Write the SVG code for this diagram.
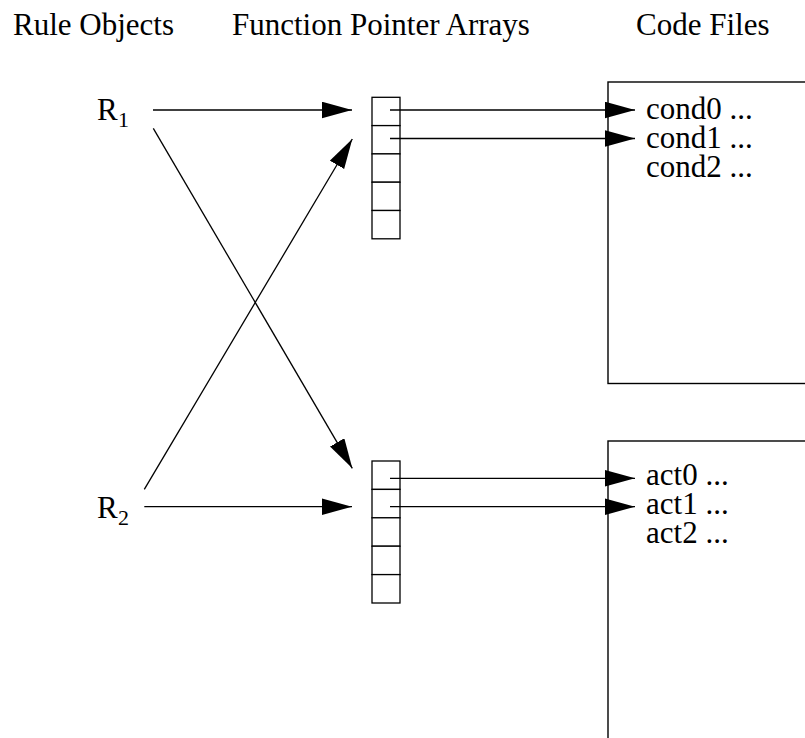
<svg xmlns="http://www.w3.org/2000/svg" width="805" height="738" viewBox="0 0 805 738">
  <style>
    text { font-family: "Liberation Serif", "Times New Roman", serif; fill: #000; }
    .hdr { font-size: 31px; }
    .code { font-size: 31px; }
    .rule { font-size: 31px; }
    .sub { font-size: 22px; }
    .box { fill: #fff; stroke: #000; stroke-width: 1.4; }
    .cell { fill: #fff; stroke: #000; stroke-width: 1.3; }
    .edge { fill: none; stroke: #000; stroke-width: 1.3; marker-end: url(#head); }
  </style>
  <defs>
    <marker id="head" markerUnits="userSpaceOnUse" markerWidth="30" markerHeight="17" refX="30" refY="8.3" orient="auto">
      <path d="M0,0 L30,8.3 L0,16.6 z" fill="#000"/>
    </marker>
  </defs>
  <rect width="805" height="738" fill="#fff"/>

  <!-- column headings -->
  <g id="headings">
    <text class="hdr" x="13" y="35">Rule Objects</text>
    <text class="hdr" x="232" y="35">Function Pointer Arrays</text>
    <text class="hdr" x="636" y="35">Code Files</text>
  </g>

  <!-- rule objects -->
  <g id="rule1">
    <text class="rule" x="97" y="120">R<tspan class="sub" x="118" y="127">1</tspan></text>
  </g>
  <g id="rule2">
    <text class="rule" x="97" y="518">R<tspan class="sub" x="118" y="525">2</tspan></text>
  </g>

  <!-- function pointer arrays (5 slots each) -->
  <g id="condArray">
    <rect class="cell" x="372" y="97.3" width="28" height="28.3"/>
    <rect class="cell" x="372" y="125.6" width="28" height="28.3"/>
    <rect class="cell" x="372" y="153.9" width="28" height="28.3"/>
    <rect class="cell" x="372" y="182.2" width="28" height="28.3"/>
    <rect class="cell" x="372" y="210.5" width="28" height="28.3"/>
  </g>
  <g id="actArray">
    <rect class="cell" x="372" y="461" width="28" height="28.4"/>
    <rect class="cell" x="372" y="489.4" width="28" height="28.4"/>
    <rect class="cell" x="372" y="517.8" width="28" height="28.4"/>
    <rect class="cell" x="372" y="546.2" width="28" height="28.4"/>
    <rect class="cell" x="372" y="574.6" width="28" height="28.4"/>
  </g>

  <!-- code files -->
  <g id="condFile">
    <rect class="box" x="608" y="82" width="220" height="301.5"/>
    <text class="code" x="646" y="119">cond0 ...</text>
    <text class="code" x="646" y="148">cond1 ...</text>
    <text class="code" x="646" y="177">cond2 ...</text>
  </g>
  <g id="actFile">
    <rect class="box" x="608" y="441" width="220" height="320"/>
    <text class="code" x="646" y="485">act0 ...</text>
    <text class="code" x="646" y="514">act1 ...</text>
    <text class="code" x="646" y="543">act2 ...</text>
  </g>

  <!-- connectors -->
  <g id="connectors">
    <line class="edge" x1="153" y1="110" x2="352" y2="110"/>
    <line class="edge" x1="153.3" y1="128.3" x2="352.3" y2="468.3"/>
    <line class="edge" x1="144.3" y1="506.7" x2="352" y2="506.7"/>
    <line class="edge" x1="144.3" y1="489.3" x2="352.3" y2="139"/>
    <line class="edge" x1="390" y1="110" x2="635" y2="110"/>
    <line class="edge" x1="390" y1="138.5" x2="635" y2="138.5"/>
    <line class="edge" x1="390" y1="478.3" x2="635" y2="478.3"/>
    <line class="edge" x1="390" y1="506.7" x2="635" y2="506.7"/>
  </g>
</svg>
